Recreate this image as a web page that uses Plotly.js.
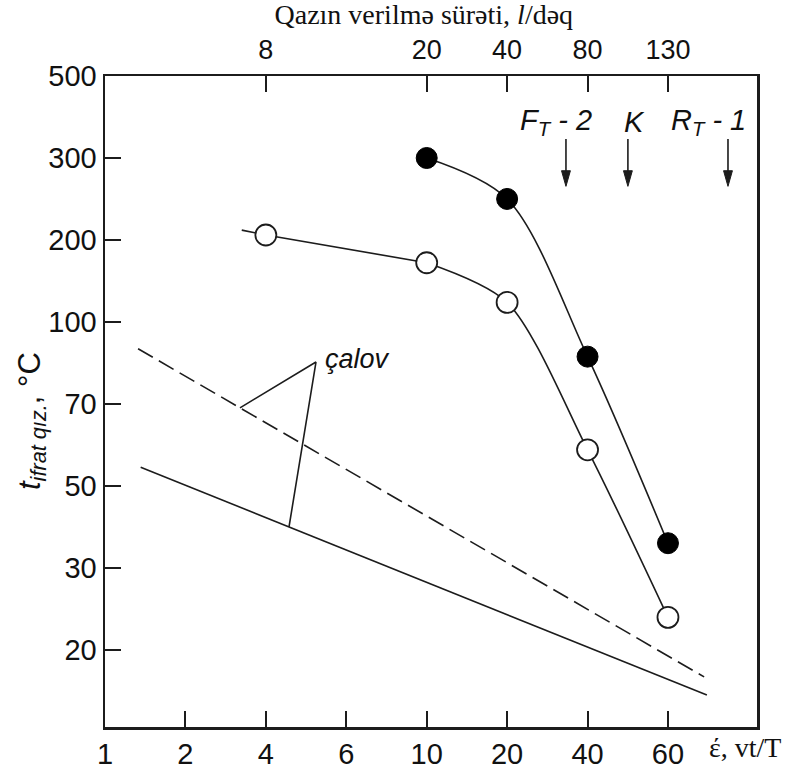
<!DOCTYPE html>
<html>
<head>
<meta charset="utf-8">
<script src="https://cdn.plot.ly/plotly-3.0.1.min.js"></script>
<style>html,body{margin:0;padding:0;background:#fff;}#chart{width:793px;height:769px;}</style>
</head>
<body>
<div id="chart"></div>
<script>
// ---- data ----
const xTickLabels = [1, 2, 4, 6, 10, 20, 40, 60];          // ε, vt/T (bottom axis)
const yTickLabels = [500, 300, 200, 100, 70, 50, 30, 20];   // t, °C (left axis)
const topTickLabels = [8, 20, 40, 80, 130];                 // gas flow, l/dəq (top axis)
const topTickAtX = [4, 10, 20, 40, 60];                     // bottom-axis value under each top tick

const filledX = [10, 20, 40, 60];
const filledY = [300, 245, 86, 35];

const openStraightX = [3.25, 4, 10];
const openStraightY = [210, 205, 165];
const openCurveX = [10, 20, 40, 60];
const openCurveY = [165, 118, 58, 23.5];
const openX = [4, 10, 20, 40, 60];
const openY = [205, 165, 118, 58, 23.5];

const calcDashedX = [1.33, 72];
const calcDashedY = [89, 17.5];
const calcSolidX = [1.36, 73];
const calcSolidY = [54, 16];

const leaderApexX = 5.15;
const leaderApexY = 84;

// ---- the chart's own (hand-drawn, evenly spaced) scale ----
function toIdx(v, labels) {
  const L = labels.map(Math.log10), lv = Math.log10(v), n = L.length;
  const asc = L[n - 1] > L[0];
  let i;
  for (i = 0; i < n - 2; i++) {
    if (asc ? lv <= L[i + 1] : lv >= L[i + 1]) break;
  }
  return i + (lv - L[i]) / (L[i + 1] - L[i]);
}
const X = a => a.map(v => toIdx(v, xTickLabels));
const Y = a => a.map(v => toIdx(v, yTickLabels));

const dX = X(calcDashedX), dY = Y(calcDashedY);
const sX = X(calcSolidX), sY = Y(calcSolidY);
const lerp = (a, b, t) => a + (b - a) * t;
const t1 = 0.18, t2 = 0.262;
const leaderX = [lerp(dX[0], dX[1], t1), toIdx(leaderApexX, xTickLabels), lerp(sX[0], sX[1], t2)];
const leaderY = [lerp(dY[0], dY[1], t1), toIdx(leaderApexY, yTickLabels), lerp(sY[0], sY[1], t2)];

const ink = '#1c1c1c';
const sans = 'Liberation Sans, Arial, sans-serif';
const serif = 'Liberation Serif, Times New Roman, serif';

const traces = [
  {x: dX, y: dY, mode: 'lines', line: {color: ink, width: 1.6, dash: '17px,7px'}, hoverinfo: 'skip'},
  {x: sX, y: sY, mode: 'lines', line: {color: ink, width: 1.6}, hoverinfo: 'skip'},
  {x: leaderX, y: leaderY, mode: 'lines', line: {color: ink, width: 1.6}, hoverinfo: 'skip'},
  {x: X(openStraightX), y: Y(openStraightY), mode: 'lines', line: {color: ink, width: 1.6}},
  {x: X(openCurveX), y: Y(openCurveY), mode: 'lines', line: {color: ink, width: 1.6, shape: 'spline', smoothing: 0.8}},
  {x: X(filledX), y: Y(filledY), mode: 'lines', line: {color: ink, width: 1.6, shape: 'spline', smoothing: 0.9}},
  {x: X(openX), y: Y(openY), mode: 'markers', marker: {size: 21, color: '#ffffff', line: {color: ink, width: 1.8}}},
  {x: X(filledX), y: Y(filledY), mode: 'markers', marker: {size: 21, color: '#000000', line: {color: '#000', width: 1}}},
  {x: [0], y: [0], xaxis: 'x2', mode: 'markers', marker: {opacity: 0}, hoverinfo: 'skip'}
];

// down-pointing arrows under the F_T-2, K, R_T-1 labels (paper coordinates)
const arrowPaperX = [0.707, 0.802, 0.9555];
const shapes = [];
arrowPaperX.forEach(ax => {
  shapes.push({type: 'line', xref: 'paper', yref: 'paper', x0: ax, x1: ax, y0: 0.9032, y1: 0.846,
               line: {color: ink, width: 1.6}});
  shapes.push({type: 'path', xref: 'paper', yref: 'paper',
               path: `M ${ax - 0.0068} 0.8545 L ${ax + 0.0068} 0.8545 L ${ax} 0.8305 Z`,
               fillcolor: ink, line: {color: ink, width: 1}});
});

const xRange = [0, 8.107];
const axisCommon = {
  showgrid: false, zeroline: false, ticks: 'inside', ticklen: 16, tickwidth: 2, tickcolor: ink,
  tickfont: {family: sans, size: 29, color: '#111'}
};

const layout = {
  width: 793, height: 769,
  margin: {l: 105, r: 36, t: 76, b: 42},
  paper_bgcolor: '#fff', plot_bgcolor: '#fff',
  showlegend: false,
  title: {text: 'Qazın verilmə sürəti, <i>l</i>/dəq', font: {family: serif, size: 28, color: '#111'},
          xref: 'paper', x: 0.489, xanchor: 'center', yref: 'container', y: 0.981, yanchor: 'middle'},
  xaxis: Object.assign({}, axisCommon, {
    range: xRange, tickvals: xTickLabels.map((_, i) => i), ticktext: xTickLabels.map(String),
    showline: true, linewidth: 2.5, linecolor: ink, mirror: true
  }),
  xaxis2: Object.assign({}, axisCommon, {
    overlaying: 'x', side: 'top', range: xRange,
    tickvals: X(topTickAtX), ticktext: topTickLabels.map(String), showline: false, ticklabelstandoff: 11,
    tickfont: {family: sans, size: 27, color: '#111'}
  }),
  yaxis: Object.assign({}, axisCommon, {
    range: [7.94, 0], tickvals: yTickLabels.map((_, i) => i), ticktext: yTickLabels.map(String),
    showline: true, linewidth: 2.5, linecolor: ink, mirror: true
  }),
  shapes: shapes,
  annotations: [
    {xref: 'paper', yref: 'paper', x: 0.923, y: -0.032, xanchor: 'left', yanchor: 'middle', showarrow: false,
     text: 'έ, vt/T', font: {family: serif, size: 28, color: '#111'}},
    {xref: 'paper', yref: 'paper', x: -0.112, y: 0.47, xanchor: 'center', yanchor: 'middle', showarrow: false, textangle: -90,
     text: '<i>t</i><sub><i>ifrat qız.</i></sub>, °C', font: {family: sans, size: 31, color: '#111'}},
    {xref: 'x', yref: 'y', x: leaderX[1], y: leaderY[1], xanchor: 'left', yanchor: 'middle', xshift: 7, yshift: 3, showarrow: false,
     text: '<i>çalov</i>', font: {family: sans, size: 27, color: '#111'}},
    {xref: 'paper', yref: 'paper', x: 0.692, y: 0.929, xanchor: 'center', yanchor: 'middle', showarrow: false,
     text: '<i>F<sub>T</sub> - 2</i>', font: {family: sans, size: 29, color: '#111'}},
    {xref: 'paper', yref: 'paper', x: 0.812, y: 0.929, xanchor: 'center', yanchor: 'middle', showarrow: false,
     text: '<i>K</i>', font: {family: sans, size: 29, color: '#111'}},
    {xref: 'paper', yref: 'paper', x: 0.926, y: 0.929, xanchor: 'center', yanchor: 'middle', showarrow: false,
     text: '<i>R<sub>T</sub> - 1</i>', font: {family: sans, size: 29, color: '#111'}}
  ]
};

Plotly.newPlot('chart', traces, layout, {staticPlot: true, displayModeBar: false});
</script>
</body>
</html>
